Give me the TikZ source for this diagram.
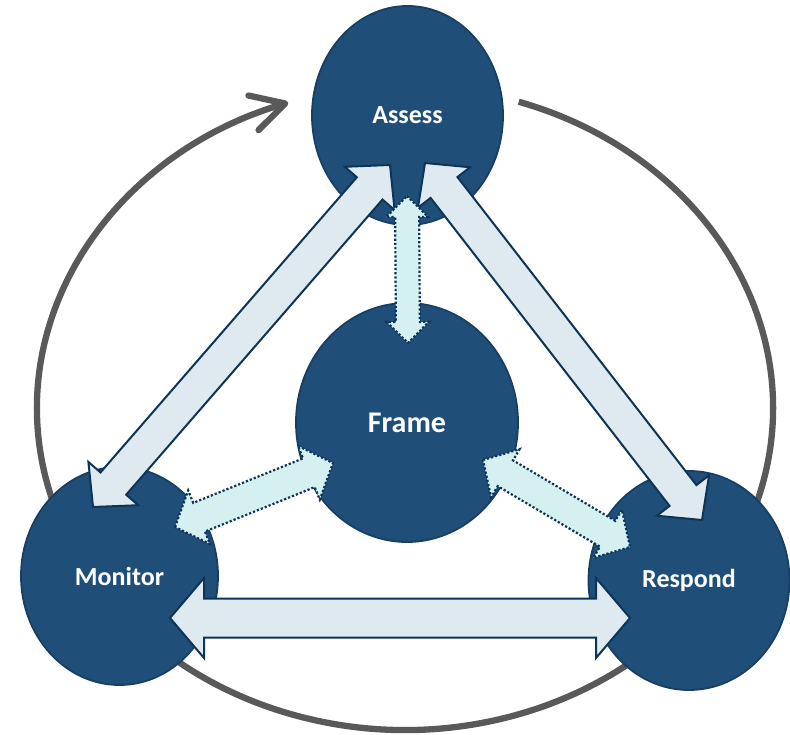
\documentclass[tikz,border=0pt]{standalone}
\usepackage{fontspec}
\setmainfont{Carlito}
\usetikzlibrary{calc,arrows.meta,shapes.geometric}
\definecolor{circfill}{HTML}{1F4E79}
\definecolor{circline}{HTML}{173F63}
\definecolor{arrfill}{HTML}{DEEAF0}
\definecolor{arrline}{HTML}{0E3457}
\definecolor{dotfill}{HTML}{D5F0F1}
\definecolor{cyclegrey}{HTML}{595959}
% #1 style, #2 tip A, #3 tip B, #4 head length, #5 head half-width, #6 shaft half-width
\newcommand{\blockarrow}[6]{%
  \coordinate (ba1) at ($(#2)!#4!(#3)$);
  \coordinate (ba2) at ($(#3)!#4!(#2)$);
  \path[#1] (#2) -- ($(ba1)!#5!90:(#3)$) -- ($(ba1)!#6!90:(#3)$)
    -- ($(ba2)!#6!-90:(#2)$) -- ($(ba2)!#5!-90:(#2)$) -- (#3)
    -- ($(ba2)!#5!90:(#2)$) -- ($(ba2)!#6!90:(#2)$)
    -- ($(ba1)!#6!-90:(#3)$) -- ($(ba1)!#5!-90:(#3)$) -- cycle;}
\begin{document}
\begin{tikzpicture}[x=1pt,y=-1pt,
  stage/.style={ellipse, fill=circfill, draw=circline, line width=1.8pt,
    inner sep=0pt, text=white, font=\bfseries\fontsize{26}{30}\selectfont},
  solidarrow/.style={fill=arrfill, draw=arrline, line width=2pt, line join=miter},
  dotarrow/.style={fill=dotfill, draw=arrline, line width=2.2pt,
    dash pattern=on 2.2pt off 2pt, line join=miter},
  cyclearc/.style={draw=cyclegrey, line width=6.3pt,
    -{Straight Barb[length=33pt,width=36pt,round]}}]
\useasboundingbox (0,0) rectangle (790,735);
\fill[white] (0,0) rectangle (790,735);
% outer cycle
\draw[cyclearc] (405,408) ++(-72:368 and 322)
  arc[start angle=-72, end angle=251.5, x radius=368, y radius=322];
% stages
\node[stage, minimum width=191pt, minimum height=219pt] (assess) at (407.5,115.5) {Assess};
\node[stage, minimum width=222pt, minimum height=239pt,
  font=\bfseries\fontsize{30}{34}\selectfont] (frame) at (407,422.5) {Frame};
\node[stage, minimum width=197pt, minimum height=218pt] (monitor) at (119.5,576) {Monitor};
\node[stage, minimum width=201pt, minimum height=219pt] (respond) at (689,580.5) {Respond};
% arrow tips
\coordinate (aM) at (93,507);   \coordinate (aA) at (390,165);
\coordinate (bA) at (425,163);  \coordinate (bR) at (702,520);
\coordinate (cM) at (170,618);  \coordinate (cR) at (630,618);
\coordinate (dA) at (407,196);  \coordinate (dF) at (408,343);
\coordinate (eM) at (175,527);  \coordinate (eF) at (333,463);
\coordinate (fF) at (483,460);  \coordinate (fR) at (630,547);
% block arrows
\blockarrow{solidarrow}{aM}{aA}{31pt}{33pt}{17pt}
\blockarrow{solidarrow}{bA}{bR}{31pt}{33pt}{17pt}
\blockarrow{solidarrow}{cM}{cR}{34pt}{40pt}{19.5pt}
\blockarrow{dotarrow}{dA}{dF}{21pt}{21pt}{12pt}
\blockarrow{dotarrow}{eM}{eF}{26pt}{29pt}{15.5pt}
\blockarrow{dotarrow}{fF}{fR}{26pt}{28pt}{15pt}
\end{tikzpicture}
\end{document}
